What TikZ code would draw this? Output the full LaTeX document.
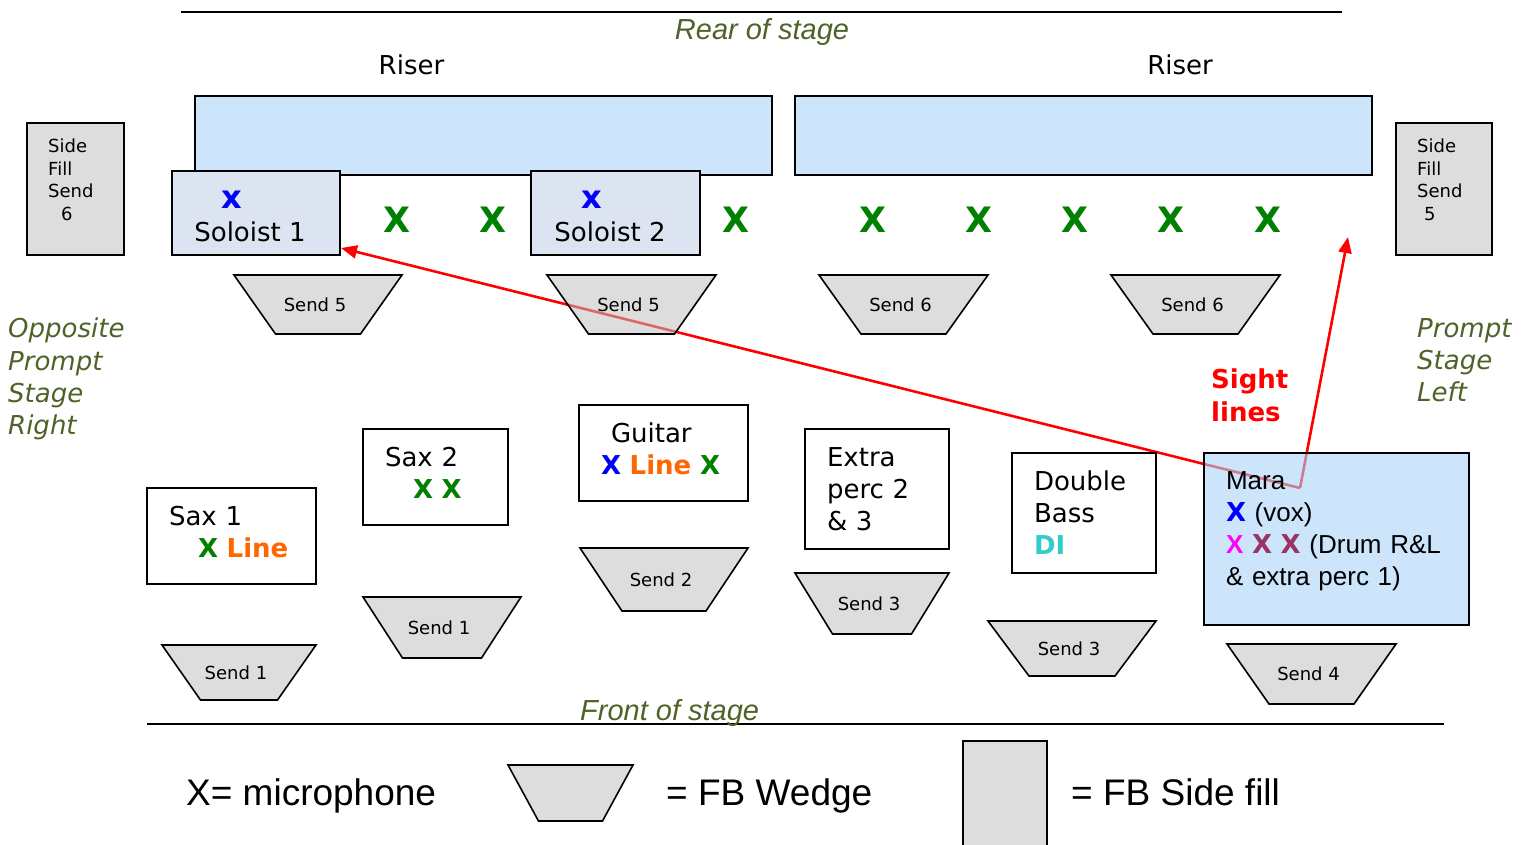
\documentclass[tikz,border=0pt]{standalone}
\usepackage{fontspec}
\setmainfont{DejaVu Sans}[BoldFont={DejaVu Sans Bold},ItalicFont={DejaVu Sans Oblique},BoldItalicFont={DejaVu Sans Bold Oblique}]
\newfontfamily\arialf{Liberation Sans}
\usetikzlibrary{arrows.meta,calc}
\definecolor{olive}{HTML}{4F6228}
\definecolor{xgreen}{HTML}{008000}
\definecolor{xblue}{HTML}{0000FF}
\definecolor{lineorange}{HTML}{FF6600}
\definecolor{dicyan}{HTML}{33CCCC}
\definecolor{xmagenta}{HTML}{FF00FF}
\definecolor{xplum}{HTML}{993366}
\definecolor{sightred}{HTML}{FF0000}
\definecolor{riserblue}{HTML}{CCE5FA}
\definecolor{solofill}{HTML}{DBE4F0}
\definecolor{wedgegray}{HTML}{C0C0C0}
\definecolor{sidegray}{HTML}{DDDDDD}
\definecolor{marabase}{HTML}{AAD4F7}
\newcommand\wedgeshape[7]{%
  \draw[wedge] (#2-#4/2,#3) -- (#2+#4/2,#3) -- (#2+#5/2,#3+#6) -- (#2-#5/2,#3+#6) -- cycle;
  \ifx\relax#7\relax\else\node[sendlbl] (#1) at (#2-3,#3+#6/2) {#7};\fi}
\tikzset{
  box/.style={draw=black, line width=1.6pt, inner sep=0pt, outer sep=0pt},
  riser/.style={box, fill=riserblue},
  sidefill/.style={box, fill=sidegray},
  solobox/.style={box, fill=solofill},
  textbox/.style={box, fill=white, align=left, inner xsep=22pt, inner ysep=0pt, font=\fontsize{26}{32}\selectfont},
  wedge/.style={draw=black, line width=1.6pt, fill=wedgegray, fill opacity=0.54, line join=miter},
  sendlbl/.style={font=\fontsize{18}{22}\selectfont, inner sep=0pt},
  bigx/.style={font=\fontsize{35}{40}\selectfont\bfseries, text=xgreen, inner sep=0pt},
  solox/.style={font=\fontsize{32}{36}\selectfont\bfseries, text=xblue, inner sep=0pt, anchor=base},
  plain/.style={font=\fontsize{26}{32}\selectfont, inner sep=0pt},
  sidetext/.style={font=\fontsize{18}{22.5}\selectfont, inner sep=0pt, align=left, anchor=north west},
  stagelbl/.style={font=\fontsize{26}{32.3}\selectfont\itshape, text=olive, align=left, inner sep=0pt, anchor=north west},
  endlbl/.style={font=\arialf\itshape\fontsize{29}{34}\selectfont, text=olive, inner sep=0pt},
  legend/.style={font=\arialf\fontsize{37}{44}\selectfont, inner sep=0pt, anchor=base west},
  sight/.style={draw=sightred, line width=2.6pt, -{Triangle[length=16pt,width=13pt]}},
  stageline/.style={draw=black, line width=2pt}
}
\begin{document}
\begin{tikzpicture}[x=1pt,y=-1pt]
\useasboundingbox (0,0) rectangle (1531,844);
% stage edges
\draw[stageline] (181,12) -- (1342,12);
\draw[stageline] (147,724) -- (1444,724);
\node[endlbl, anchor=base] (rear) at (762,39) {Rear of stage};
\node[endlbl, anchor=base west] (front) at (580,720) {Front of stage};
% risers
\node[plain, anchor=base] (riserlbl1) at (411.5,74) {Riser};
\node[plain, anchor=base] (riserlbl2) at (1180,74) {Riser};
\node[riser, minimum width=577pt, minimum height=79pt] (riser1) at (483.5,135.5) {};
\node[riser, minimum width=577pt, minimum height=79pt] (riser2) at (1083.5,135.5) {};
% side fills
\node[sidefill, minimum width=97pt, minimum height=132pt] (sf6) at (75.5,189) {};
\node[sidetext] (sf6t) at (48,139) {Side\\Fill\\Send\\\hspace*{13pt}6};
\node[sidefill, minimum width=96pt, minimum height=132pt] (sf5) at (1444,189) {};
\node[sidetext] (sf5t) at (1417,139) {Side\\Fill\\Send\\\hspace*{7pt}5};
% soloists
\node[solobox, minimum width=168pt, minimum height=84pt] (solo1) at (256,213) {};
\node[solox] (solo1x) at (232,208) {x};
\node[plain, anchor=base] (solo1t) at (250,241) {Soloist 1};
\node[solobox, minimum width=169pt, minimum height=84pt] (solo2) at (615.5,213) {};
\node[solox] (solo2x) at (591.5,208) {x};
\node[plain, anchor=base] (solo2t) at (610,241) {Soloist 2};
% riser mics
\node[bigx] (m1) at (397,220) {X};
\node[bigx] (m2) at (493,220) {X};
\node[bigx] (m3) at (736,220) {X};
\node[bigx] (m4) at (873,220) {X};
\node[bigx] (m5) at (979,220) {X};
\node[bigx] (m6) at (1075,220) {X};
\node[bigx] (m7) at (1171,220) {X};
\node[bigx] (m8) at (1268,220) {X};
% side labels
\node[stagelbl] (opsr) at (8,318) {Opposite\\Prompt\\Stage\\Right};
\node[stagelbl] (psl) at (1417,318) {Prompt\\Stage\\Left};
\node[font=\fontsize{26}{33}\selectfont\bfseries, text=sightred, align=left, inner sep=0pt, anchor=north west] (sightlbl) at (1211,369) {Sight\\lines};
% sight lines
\coordinate (mp) at (1300,488);
\coordinate (sl2) at (1348,237);
\draw[sight] (mp) -- ($(solo1.south east)+(1,-7)$);
\draw[sight] (mp) -- (sl2);
% wedges
\wedgeshape{w5a}{318}{275}{168}{85}{59}{Send 5}
\wedgeshape{w5b}{631.5}{275}{169}{86}{59}{Send 5}
\wedgeshape{w6a}{903.5}{275}{169}{85}{59}{Send 6}
\wedgeshape{w6b}{1195.5}{275}{169}{85}{59}{Send 6}
\wedgeshape{w1a}{239}{645}{154}{77}{55}{Send 1}
\wedgeshape{w1b}{442}{597}{158}{79}{61}{Send 1}
\wedgeshape{w2}{664}{548}{168}{84}{63}{Send 2}
\wedgeshape{w3a}{872}{573}{154}{79}{61}{Send 3}
\wedgeshape{w3b}{1072}{621}{168}{86}{55}{Send 3}
\wedgeshape{w4}{1311.5}{644}{169}{85}{60}{Send 4}
% performer boxes
\node[textbox, minimum width=169pt, minimum height=96pt, text width=125pt] (sax1) at (231.5,536)
  {Sax 1\\\hspace*{29pt}{\bfseries\color{xgreen}X} {\bfseries\color{lineorange}Line}\rule[-8pt]{0pt}{8pt}};
\node[textbox, minimum width=145pt, minimum height=96pt, text width=101pt] (sax2) at (435.5,477)
  {Sax 2\\\hspace*{28pt}{\bfseries\color{xgreen}X X}\rule[-8pt]{0pt}{8pt}};
\node[textbox, minimum width=169pt, minimum height=96pt, text width=125pt] (guitar) at (663.5,453)
  {\hspace*{10pt}Guitar\\{\bfseries\color{xblue}X} {\bfseries\color{lineorange}Line} {\bfseries\color{xgreen}X}\rule[-8pt]{0pt}{8pt}};
\node[textbox, minimum width=144pt, minimum height=120pt, text width=100pt] (extra) at (877,489)
  {Extra\\perc 2\\\& 3};
\node[textbox, minimum width=144pt, minimum height=120pt, text width=100pt] (bass) at (1084,513)
  {Double\\Bass\\{\bfseries\color{dicyan}DI}};
\node[textbox, fill=marabase, fill opacity=0.6, text opacity=1, minimum width=265pt, minimum height=172pt, text width=221pt, font=\arialf\fontsize{26}{32}\selectfont] (mara) at (1336.5,539)
  {Mara\\{\rmfamily\bfseries\color{xblue}X} (vox)\\{\bfseries\color{xmagenta}X} {\rmfamily\bfseries\color{xplum}X} {\rmfamily\bfseries\color{xplum}X} (Drum R\&L\\\& extra perc 1)\rule[-21pt]{0pt}{21pt}};
% legend
\node[legend] (lgx) at (186,805) {X= microphone};
\wedgeshape{lgw}{570.5}{765}{125}{64}{56}{}
\node[legend] (lgwt) at (666,805) {= FB Wedge};
\draw[box, fill=sidegray] (963,741) rectangle (1047,880);
\node[legend] (lgst) at (1071,805) {= FB Side fill};
\end{tikzpicture}
\end{document}
